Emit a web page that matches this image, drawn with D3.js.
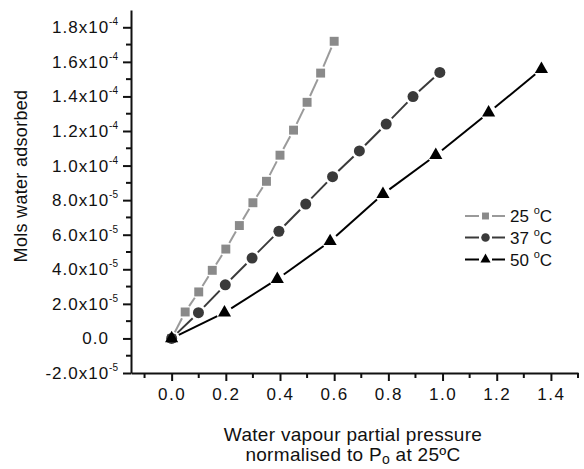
<!DOCTYPE html>
<html>
<head>
<meta charset="utf-8">
<script src="https://d3js.org/d3.v7.min.js"></script>
<style>
body { margin: 0; background: #fff; }
svg text { font-family: "Liberation Sans", Arial, sans-serif; fill: #111; }
</style>
</head>
<body>
<svg width="584" height="469"></svg>
<script>
// data (x = p/Po, y = mols)
var x25 = [0, 0.05, 0.10, 0.15, 0.20, 0.25, 0.30, 0.35, 0.40, 0.45, 0.50, 0.55, 0.60];
var y25 = [0, 1.53e-5, 2.69e-5, 3.94e-5, 5.17e-5, 6.53e-5, 7.85e-5, 9.09e-5, 1.06e-4, 1.205e-4, 1.366e-4, 1.535e-4, 1.719e-4];
var x37 = [0, 0.099, 0.198, 0.297, 0.396, 0.495, 0.594, 0.693, 0.792, 0.891, 0.99];
var y37 = [0, 1.49e-5, 3.10e-5, 4.65e-5, 6.20e-5, 7.77e-5, 9.36e-5, 1.085e-4, 1.240e-4, 1.399e-4, 1.539e-4];
var x50 = [0, 0.195, 0.39, 0.585, 0.78, 0.975, 1.17, 1.365];
var y50 = [0, 1.49e-5, 3.43e-5, 5.62e-5, 8.35e-5, 1.06e-4, 1.306e-4, 1.558e-4];
var xTicks = [0.0, 0.2, 0.4, 0.6, 0.8, 1.0, 1.2, 1.4];
var yTicks = [-2e-5, 0, 2e-5, 4e-5, 6e-5, 8e-5, 1e-4, 1.2e-4, 1.4e-4, 1.6e-4, 1.8e-4];
var seriesNames = ["25", "37", "50"];

var svg = d3.select("svg");
var mLeft = 131, mRight = 578, mTop = 10, mBottom = 373;

var xs = d3.scaleLinear().domain([-0.15, 1.5]).range([mLeft, mRight]);
var ys = d3.scaleLinear().domain([-2e-5, 1.9e-4]).range([mBottom, mTop]);

// axes
var minorX = [-0.1, 0.1, 0.3, 0.5, 0.7, 0.9, 1.1, 1.3, 1.5];
var minorY = d3.range(-1e-5, 1.9e-4, 2e-5);

var gx = svg.append("g").attr("transform", "translate(0," + mBottom + ")");
gx.call(d3.axisBottom(xs).tickValues(xTicks).tickFormat(d3.format(".1f")).tickSize(8).tickPadding(7).tickSizeOuter(0));
gx.append("g").selectAll("line").data(minorX).enter().append("line")
  .attr("x1", xs).attr("x2", xs).attr("y1", 0).attr("y2", 5).attr("stroke", "#111").attr("stroke-width", 2);
gx.select(".domain").attr("stroke-width", 2).attr("stroke", "#111");
gx.selectAll(".tick line").attr("stroke-width", 2).attr("stroke", "#111");
gx.selectAll(".tick text").attr("font-size", 17).attr("fill", "#111").attr("letter-spacing", 1.5)
  .attr("font-family", "Liberation Sans, Arial, sans-serif");

var gy = svg.append("g").attr("transform", "translate(" + mLeft + ",0)");
gy.call(d3.axisLeft(ys).tickValues(yTicks).tickFormat("").tickSize(8).tickSizeOuter(0));
gy.append("g").selectAll("line").data(minorY).enter().append("line")
  .attr("x1", 0).attr("x2", -5).attr("y1", ys).attr("y2", ys).attr("stroke", "#111").attr("stroke-width", 2);
gy.select(".domain").attr("stroke-width", 2).attr("stroke", "#111");
gy.selectAll(".tick line").attr("stroke-width", 2).attr("stroke", "#111");

// y tick labels as mantissa x 10^exp
yTicks.forEach(function(v) {
  var t = svg.append("text").attr("x", 118).attr("y", ys(v) + 6).attr("text-anchor", "end")
    .attr("font-size", 17).attr("letter-spacing", 1);
  if (v == 0) { t.attr("x", 109).text("0.0"); return; }
  var e = Math.floor(Math.log10(Math.abs(v)));
  var m = v / Math.pow(10, e);
  t.append("tspan").text(m.toFixed(1) + "x10");
  t.append("tspan").attr("dy", -8).attr("font-size", 10).attr("letter-spacing", 0).text(e);
});

// axis titles
svg.append("text").attr("transform", "translate(27,176) rotate(-90)")
  .attr("text-anchor", "middle").attr("font-size", 18).attr("letter-spacing", 0.3).text("Mols water adsorbed");
svg.append("text").attr("x", 353).attr("y", 441).attr("text-anchor", "middle").attr("font-size", 19)
  .attr("letter-spacing", 0.3).text("Water vapour partial pressure");
var t2 = svg.append("text").attr("x", 353).attr("y", 461).attr("text-anchor", "middle").attr("font-size", 19)
  .attr("letter-spacing", 0.3);
t2.append("tspan").text("normalised to P");
t2.append("tspan").attr("dy", 3).attr("font-size", 14).text("o");
t2.append("tspan").attr("dy", -3).text(" at 25\u00baC");

// series
var series = [
  {xs: x25, ys: y25, line: "#9a9a9a", fill: "#8a8a8a", shape: d3.symbolSquare, size: 80, r: 5},
  {xs: x37, ys: y37, line: "#3a3a3a", fill: "#3a3a3a", shape: d3.symbolCircle, size: 95, r: 6},
  {xs: x50, ys: y50, line: "#000", fill: "#000", shape: d3.symbolTriangle, size: 75, r: 6}
];

series.forEach(function(s) {
  var pts = s.xs.map(function(v, i) { return [xs(v), ys(s.ys[i])]; });
  var g = svg.append("g");
  for (var i = 1; i < pts.length; i++) {
    var a = pts[i-1], b = pts[i];
    var dx = b[0] - a[0], dy = b[1] - a[1], len = Math.sqrt(dx*dx + dy*dy);
    var gap = s.r + 2;
    if (len <= 2 * gap) continue;
    g.append("line")
      .attr("x1", a[0] + dx/len*gap).attr("y1", a[1] + dy/len*gap)
      .attr("x2", b[0] - dx/len*gap).attr("y2", b[1] - dy/len*gap)
      .attr("stroke", s.line).attr("stroke-width", 2);
  }
  g.selectAll("path").data(pts).enter().append("path")
    .attr("d", d3.symbol().type(s.shape).size(s.size))
    .attr("transform", function(d) { return "translate(" + d[0] + "," + d[1] + ")"; })
    .attr("fill", s.fill);
});

// legend
var legY = [216, 237.5, 259.5];
series.forEach(function(s, i) {
  var g = svg.append("g").attr("transform", "translate(0," + legY[i] + ")");
  g.append("line").attr("x1", 465).attr("x2", 479).attr("y1", 0).attr("y2", 0).attr("stroke", s.line).attr("stroke-width", 2);
  g.append("line").attr("x1", 492).attr("x2", 505).attr("y1", 0).attr("y2", 0).attr("stroke", s.line).attr("stroke-width", 2);
  g.append("path").attr("d", d3.symbol().type(s.shape).size(s.size * 0.6)).attr("transform", "translate(485.5,0)").attr("fill", s.fill);
  var t = g.append("text").attr("x", 510).attr("y", 6).attr("font-size", 17);
  t.append("tspan").text(seriesNames[i] + " ");
  t.append("tspan").attr("dy", -8).attr("font-size", 11).text("o");
  t.append("tspan").attr("dy", 8).text("C");
});
</script>
</body>
</html>
